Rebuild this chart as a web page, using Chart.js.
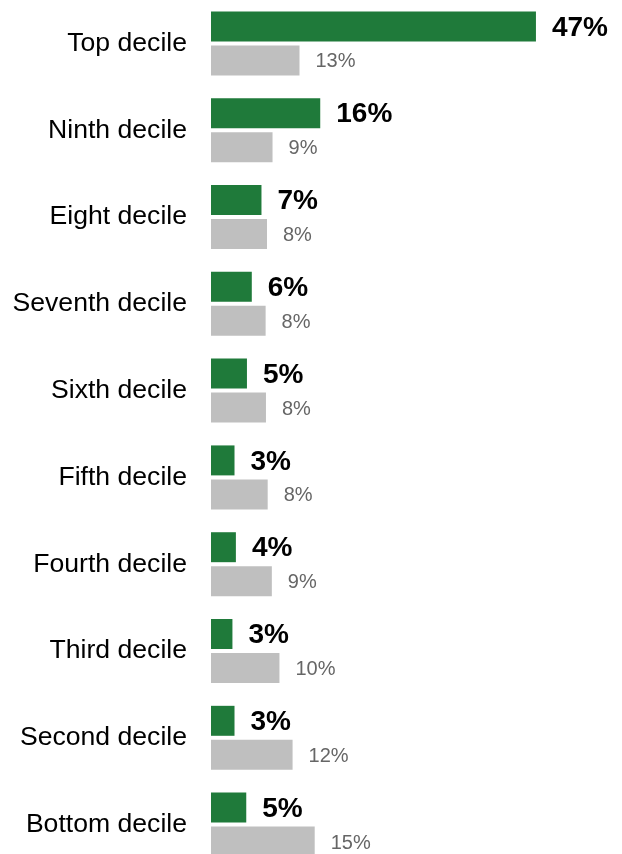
<!DOCTYPE html>
<html>
<head>
<meta charset="utf-8">
<title>Share by decile</title>
<script src="https://cdn.jsdelivr.net/npm/chart.js@4"></script>
<style>
  html, body { margin: 0; padding: 0; background: #fff; overflow: hidden; }
  #wrap { position: relative; width: 622px; height: 868px; }
</style>
</head>
<body>
<div id="wrap"><canvas id="chart"></canvas></div>
<script>
// values (labels show them rounded)
const deciles = ['Top decile', 'Ninth decile', 'Eight decile', 'Seventh decile', 'Sixth decile',
  'Fifth decile', 'Fourth decile', 'Third decile', 'Second decile', 'Bottom decile'];
const greenShare = [47, 15.8, 7.3, 5.9, 5.2, 3.4, 3.6, 3.1, 3.4, 5.1];
const greyShare = [12.8, 8.9, 8.1, 7.9, 7.95, 8.2, 8.8, 9.9, 11.8, 15.0];

const FONT = '"Liberation Sans", Arial, sans-serif';

// draws the % next to the end of each bar
const barLabels = {
  id: 'barLabels',
  afterDatasetsDraw(chart) {
    const ctx = chart.ctx;
    ctx.save();
    ctx.textBaseline = 'middle';
    ctx.textAlign = 'left';
    chart.data.datasets.forEach((ds, i) => {
      const meta = chart.getDatasetMeta(i);
      ctx.font = ds.labelFont;
      ctx.fillStyle = ds.labelColor;
      meta.data.forEach((bar, j) => {
        ctx.fillText(Math.round(ds.data[j]) + '%', bar.x + 16, bar.y + 1.5);
      });
    });
    ctx.restore();
  }
};

new Chart(document.getElementById('chart'), {
  type: 'bar',
  data: {
    labels: deciles,
    datasets: [
      {
        data: greenShare,
        backgroundColor: '#1f7a3a',
        labelFont: 'bold 28px ' + FONT,
        labelColor: '#000'
      },
      {
        data: greyShare,
        backgroundColor: '#bfbfbf',
        labelFont: '20px ' + FONT,
        labelColor: '#666'
      }
    ]
  },
  options: {
    indexAxis: 'y',
    responsive: true,
    maintainAspectRatio: false,
    animation: false,
    categoryPercentage: 0.783,
    barPercentage: 0.882,
    layout: { padding: { left: 0, right: 10, top: 0, bottom: 0 } },
    plugins: { legend: { display: false }, tooltip: { enabled: false } },
    scales: {
      x: { display: false, min: 0, max: 58 },
      y: {
        grid: { display: false, drawTicks: false },
        border: { display: false },
        ticks: { color: '#000', padding: 24, font: { family: FONT, size: 26.6 } },
        afterFit(scale) {
          scale.width = 211;
          scale.paddingTop = 0;
          scale.paddingBottom = 0;
        }
      }
    }
  },
  plugins: [barLabels]
});
</script>
</body>
</html>
